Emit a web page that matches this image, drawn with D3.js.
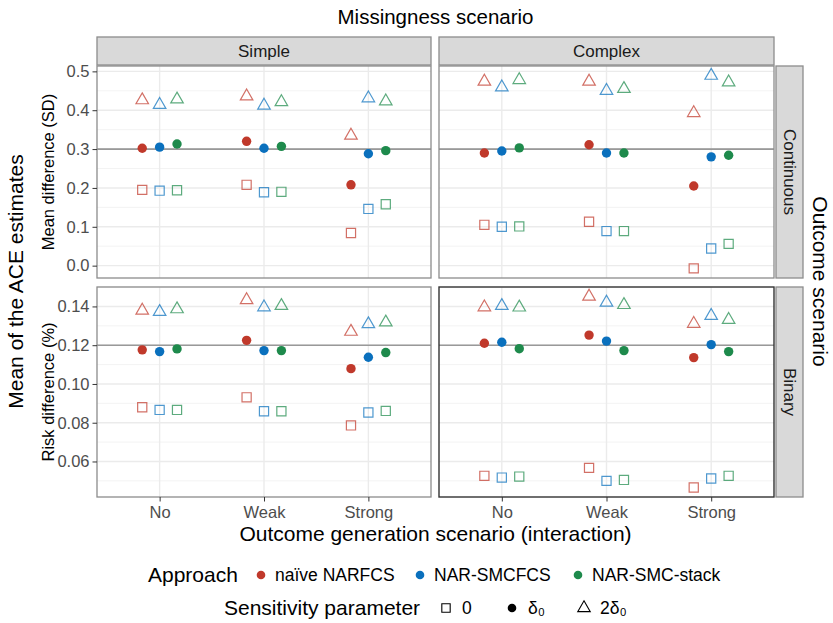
<!DOCTYPE html>
<html>
<head>
<meta charset="utf-8">
<script src="https://cdn.jsdelivr.net/npm/d3@7.9.0/dist/d3.min.js"></script>
<style>
  body { margin: 0; background: #fff; }
  svg { font-family: "Liberation Sans", Arial, sans-serif; }
</style>
</head>
<body>
<svg id="chart" width="833" height="623"></svg>
<script>
// categories
const missingness = ["Simple", "Complex"];
const outcomes = ["Continuous", "Binary"];
const interactions = ["No", "Weak", "Strong"];
const approaches = ["naïve NARFCS", "NAR-SMCFCS", "NAR-SMC-stack"];
const sensitivity = ["0", "δ₀", "2δ₀"];
const trueEffect = [0.3, 0.12];
const yTicksContinuous = [0, 0.1, 0.2, 0.3, 0.4, 0.5];
const yTicksBinary = [0.06, 0.08, 0.10, 0.12, 0.14];

// values: rows = approach, cols = interaction (No, Weak, Strong)
const simpleContZero  = [[0.195, 0.208, 0.084], [0.193, 0.189, 0.146], [0.194, 0.190, 0.158]];
const simpleContDelta = [[0.302, 0.320, 0.208], [0.305, 0.302, 0.288], [0.313, 0.307, 0.296]];
const simpleContTwo   = [[0.426, 0.436, 0.335], [0.414, 0.412, 0.431], [0.428, 0.421, 0.423]];

const complexContZero  = [[0.105, 0.113, -0.007], [0.100, 0.089, 0.044], [0.101, 0.089, 0.056]];
const complexContDelta = [[0.290, 0.311, 0.205], [0.295, 0.290, 0.280], [0.303, 0.290, 0.284]];
const complexContTwo   = [[0.474, 0.474, 0.393], [0.459, 0.450, 0.489], [0.478, 0.455, 0.472]];

const simpleBinZero  = [[0.0880, 0.0931, 0.0786], [0.0866, 0.0859, 0.0853], [0.0866, 0.0859, 0.0861]];
const simpleBinDelta = [[0.1176, 0.1225, 0.1079], [0.1167, 0.1172, 0.1138], [0.1181, 0.1172, 0.1162]];
const simpleBinTwo   = [[0.1379, 0.1433, 0.1270], [0.1372, 0.1396, 0.1309], [0.1386, 0.1403, 0.1318]];

const complexBinZero  = [[0.0526, 0.0567, 0.0466], [0.0517, 0.0500, 0.0512], [0.0522, 0.0505, 0.0526]];
const complexBinDelta = [[0.1210, 0.1252, 0.1136], [0.1215, 0.1221, 0.1203], [0.1182, 0.1172, 0.1167]];
const complexBinTwo   = [[0.1396, 0.1451, 0.1311], [0.1403, 0.1420, 0.1352], [0.1395, 0.1408, 0.1331]];

const colors = ["#c0392b", "#0a70bd", "#1e8a4c"];

// panel[row][col] -> [zero, delta, twoDelta]
const panelData = [
  [[simpleContZero, simpleContDelta, simpleContTwo], [complexContZero, complexContDelta, complexContTwo]],
  [[simpleBinZero, simpleBinDelta, simpleBinTwo], [complexBinZero, complexBinDelta, complexBinTwo]]
];

function toPoints(sets) {
  let pts = [];
  sets.forEach((set, s) => {
    set.forEach((vals, a) => {
      vals.forEach((v, i) => pts.push({ sens: s, approach: a, inter: interactions[i], value: v }));
    });
  });
  return pts;
}

const svg = d3.select("#chart");
const colX = [[97, 431], [439, 774]];
const rowY = [[66, 278], [287, 497]];
const borderCol = "#8c8c8c";

const xScales = colX.map(([x0, x1]) => d3.scalePoint().domain(interactions).range([x0, x1]).padding(0.6));
const yScales = rowY.map(([y0, y1], r) => {
  let all = toPoints(panelData[r][0]).concat(toPoints(panelData[r][1])).map(d => d.value);
  let [lo, hi] = d3.extent(all);
  let pad = (hi - lo) * 0.05;
  return d3.scaleLinear().domain([lo - pad, hi + pad]).range([y1, y0]);
});
const yTicks = [yTicksContinuous, yTicksBinary];
const yFormats = [d3.format(".1f"), d3.format(".2f")];

const symTri = d3.symbol().type(d3.symbolTriangle).size(68);
const symSq = d3.symbol().type(d3.symbolSquare).size(84);

rowY.forEach(([y0, y1], r) => {
  colX.forEach(([x0, x1], c) => {
    let x = xScales[c], y = yScales[r];
    let g = svg.append("g");
    g.append("rect").attr("x", x0).attr("y", y0).attr("width", x1 - x0).attr("height", y1 - y0).attr("fill", "#fff");

    let ticks = yTicks[r];
    let step = ticks[1] - ticks[0];
    let minors = [];
    for (let i = -1; i < ticks.length; i++) {
      let m = ticks[0] + step * (i + 0.5);
      let [dlo, dhi] = y.domain();
      if (m > dlo && m < dhi) minors.push(m);
    }
    g.selectAll(".minor").data(minors).enter().append("line")
      .attr("x1", x0).attr("x2", x1).attr("y1", d => y(d)).attr("y2", d => y(d))
      .attr("stroke", "#f0f0f0").attr("stroke-width", 0.8);
    g.selectAll(".major").data(ticks).enter().append("line")
      .attr("x1", x0).attr("x2", x1).attr("y1", d => y(d)).attr("y2", d => y(d))
      .attr("stroke", "#ebebeb").attr("stroke-width", 1.4);
    g.selectAll(".vmajor").data(interactions).enter().append("line")
      .attr("x1", d => x(d)).attr("x2", d => x(d)).attr("y1", y0).attr("y2", y1)
      .attr("stroke", "#ebebeb").attr("stroke-width", 1.4);

    g.append("line").attr("x1", x0).attr("x2", x1)
      .attr("y1", y(trueEffect[r])).attr("y2", y(trueEffect[r]))
      .attr("stroke", r === 0 ? "#555" : "#999").attr("stroke-width", r === 0 ? 1 : 1.4);

    let dodge = x.step() / 6;
    let pts = toPoints(panelData[r][c]);
    let px = d => x(d.inter) + (d.approach - 1) * dodge;

    g.selectAll(".sq").data(pts.filter(d => d.sens === 0)).enter().append("path")
      .attr("d", symSq).attr("transform", d => `translate(${px(d)},${y(d.value)})`)
      .attr("fill", "none").attr("stroke", d => colors[d.approach])
      .attr("stroke-opacity", 0.72).attr("stroke-width", 1.2);
    g.selectAll(".tri").data(pts.filter(d => d.sens === 2)).enter().append("path")
      .attr("d", symTri).attr("transform", d => `translate(${px(d)},${y(d.value)})`)
      .attr("fill", "none").attr("stroke", d => colors[d.approach])
      .attr("stroke-opacity", 0.72).attr("stroke-width", 1.2);
    g.selectAll(".dot").data(pts.filter(d => d.sens === 1)).enter().append("circle")
      .attr("cx", px).attr("cy", d => y(d.value)).attr("r", 4.7)
      .attr("fill", d => colors[d.approach]);

    let highlight = r === 1 && c === 1;
    g.append("rect").attr("x", x0).attr("y", y0).attr("width", x1 - x0).attr("height", y1 - y0)
      .attr("fill", "none").attr("stroke", highlight ? "#333" : borderCol).attr("stroke-width", highlight ? 1.4 : 1.3);
  });
});

// top strips
colX.forEach(([x0, x1], c) => {
  svg.append("rect").attr("x", x0).attr("y", 37).attr("width", x1 - x0).attr("height", 28)
    .attr("fill", "#d9d9d9").attr("stroke", borderCol).attr("stroke-width", 1.3);
  svg.append("text").attr("x", (x0 + x1) / 2).attr("y", 57).attr("text-anchor", "middle")
    .attr("font-size", 17).attr("fill", "#1a1a1a").text(missingness[c]);
});
// right strips
rowY.forEach(([y0, y1], r) => {
  svg.append("rect").attr("x", 776).attr("y", y0).attr("width", 27).attr("height", y1 - y0)
    .attr("fill", "#d9d9d9").attr("stroke", borderCol).attr("stroke-width", 1.3);
  svg.append("text").attr("transform", `translate(783.5,${(y0 + y1) / 2}) rotate(90)`)
    .attr("text-anchor", "middle").attr("font-size", 17).attr("fill", "#1a1a1a").text(outcomes[r]);
});

// axes
rowY.forEach((_, r) => {
  let ax = svg.append("g").attr("transform", `translate(${colX[0][0]},0)`)
    .call(d3.axisLeft(yScales[r]).tickValues(yTicks[r]).tickFormat(yFormats[r]).tickSize(4.5).tickPadding(3));
  ax.select(".domain").remove();
  ax.selectAll("line").attr("stroke", "#333");
  ax.selectAll("text").attr("font-size", 16.5).attr("fill", "#4d4d4d").attr("font-family", null);
});
colX.forEach((_, c) => {
  let ax = svg.append("g").attr("transform", `translate(0,${rowY[1][1]})`)
    .call(d3.axisBottom(xScales[c]).tickSize(4.5).tickPadding(5));
  ax.select(".domain").remove();
  ax.selectAll("line").attr("stroke", "#333");
  ax.selectAll("text").attr("font-size", 16.5).attr("fill", "#4d4d4d").attr("font-family", null);
});

// titles
const midX = (colX[0][0] + colX[1][1]) / 2;
const midY = (rowY[0][0] + rowY[1][1]) / 2;
svg.append("text").attr("x", midX).attr("y", 24).attr("text-anchor", "middle")
  .attr("font-size", 20.5).text("Missingness scenario");
svg.append("text").attr("x", midX).attr("y", 541).attr("text-anchor", "middle")
  .attr("font-size", 21).text("Outcome generation scenario (interaction)");
svg.append("text").attr("transform", `translate(23,${midY}) rotate(-90)`).attr("text-anchor", "middle")
  .attr("font-size", 21).text("Mean of the ACE estimates");
svg.append("text").attr("transform", `translate(813,${midY}) rotate(90)`).attr("text-anchor", "middle")
  .attr("font-size", 21).text("Outcome scenario");
svg.append("text").attr("transform", `translate(54,${(rowY[0][0] + rowY[0][1]) / 2}) rotate(-90)`)
  .attr("text-anchor", "middle").attr("font-size", 16.5).text("Mean difference (SD)");
svg.append("text").attr("transform", `translate(54,${(rowY[1][0] + rowY[1][1]) / 2}) rotate(-90)`)
  .attr("text-anchor", "middle").attr("font-size", 16.5).text("Risk difference (%)");

// legend: approach
const leg1 = svg.append("g").attr("transform", "translate(0,575)");
leg1.append("text").attr("x", 148).attr("y", 7).attr("font-size", 21).text("Approach");
const keyX1 = [261, 420, 578];
approaches.forEach((a, i) => {
  leg1.append("circle").attr("cx", keyX1[i]).attr("cy", 0).attr("r", 4.3).attr("fill", colors[i]);
  leg1.append("text").attr("x", keyX1[i] + 14).attr("y", 6).attr("font-size", 17.5).text(a);
});

// legend: sensitivity
const leg2 = svg.append("g").attr("transform", "translate(0,608)");
leg2.append("text").attr("x", 224).attr("y", 7).attr("font-size", 21).text("Sensitivity parameter");
const keyX2 = [446, 512, 584];
const keySyms = [d3.symbol().type(d3.symbolSquare).size(70), null, d3.symbol().type(d3.symbolTriangle).size(68)];
sensitivity.forEach((s, i) => {
  if (i === 1) {
    leg2.append("circle").attr("cx", keyX2[i]).attr("cy", 0).attr("r", 4.3).attr("fill", "#000");
  } else {
    leg2.append("path").attr("d", keySyms[i]).attr("transform", `translate(${keyX2[i]},0)`)
      .attr("fill", "none").attr("stroke", "#000").attr("stroke-width", 1.1);
  }
  leg2.append("text").attr("x", keyX2[i] + 16).attr("y", 6).attr("font-size", 17.5).text(s);
});
</script>
</body>
</html>
